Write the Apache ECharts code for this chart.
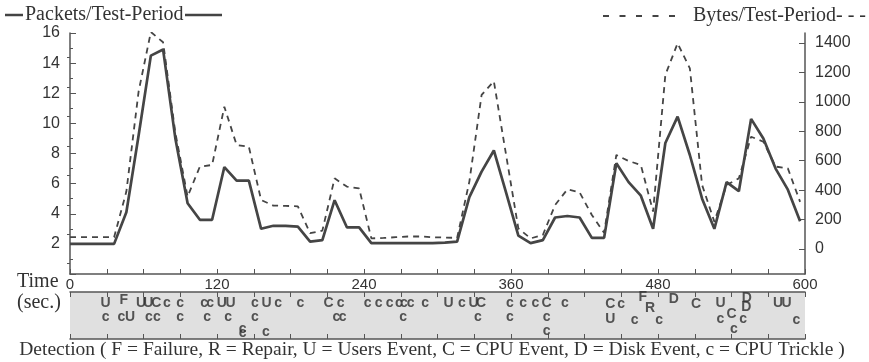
<!DOCTYPE html>
<html><head><meta charset="utf-8">
<script src="https://cdn.jsdelivr.net/npm/echarts@6/dist/echarts.min.js"></script>
<style>html,body{margin:0;padding:0;background:#fff}#c{width:869px;height:362px}</style>
</head><body><div id="c"></div>
<script>
// Sample times (sec.)
const times = [0,6,16,26,36,46,56,66,76,86,96,106,116,126,136,146,156,166,176,186,196,206,216,226,236,246,256,266,276,286,296,306,316,326,336,346,356,366,376,386,396,406,416,426,436,446,456,466,476,486,496,506,516,526,536,546,556,566,576,586,596];
// Packets per test period (left axis)
const packets = [2.0,2.0,2.0,2.0,2.0,4.1,9.2,14.5,14.9,9.0,4.7,3.6,3.6,7.1,6.2,6.2,3.0,3.2,3.2,3.15,2.15,2.25,4.9,3.1,3.1,2.05,2.05,2.05,2.05,2.05,2.05,2.08,2.15,5.1,6.8,8.2,5.4,2.55,2.05,2.25,3.75,3.85,3.75,2.4,2.4,7.35,6.1,5.2,3.0,8.7,10.45,7.9,5.0,3.0,6.1,5.5,10.3,9.0,7.0,5.6,3.5];
// Bytes per test period (right axis)
const bytes = [80,80,80,80,80,390,1070,1475,1405,790,356,560,571,967,707,695,333,295,293,290,107,125,480,424,412,72,75,80,85,85,80,78,75,458,1047,1140,639,140,72,95,299,405,385,231,110,639,598,571,254,1183,1398,1228,435,186,435,480,763,729,560,548,320];
// Detection events: time, stacking level, letter
const detTimes  = [29,29,44,42,49,58,64,70.5,79,64.5,71,90,90,109.5,114.5,112,124,131,129,141,141,151,151,160,160.5,170,188,211,221,217.5,222.5,243,252,261,268.5,272.5,278,272,290,309,320,329.5,335.5,333,359,359,370,380,389,389,389,404,441,450,441,461,467.5,473.5,481,493,511,531,531,540,549.5,542,552.5,552,578,585,593];
const detLevels = [1,2,0.78,2,2,1,1,1,1,2,2,1,2,1,1,2,1,1,2,2.85,3.1,1,2,3.05,1,1,1,1,1,2,2,1,1,1,1,1,1,2,1,1,1,1,1,2,1,2,1,1,1,2,3,1,1.05,1.05,2.1,2.2,0.6,1.35,2.2,0.7,1.1,1.0,2.1,1.75,2.1,2.85,0.65,1.25,1.0,1.0,2.2];
const detLetters = ['U','c','F','c','U','U','U','C','c','c','c','c','c','c','c','c','U','U','c','c','c','c','c','c','U','c','c','C','c','c','c','c','c','c','c','c','c','c','c','U','c','U','C','c','c','c','c','c','C','c','c','c','C','c','U','c','F','R','c','D','C','U','c','C','c','c','D','D','U','U','c'];
// Tick labels
const timeLabels = [0,120,240,360,480,600];
const bytesTicks = [0,200,400,600,800,1000,1200,1400];
const bytesMinorTicks = [-100,100,300,500,700,900,1100,1300];

const packetData = times.map((t,i)=>[t,packets[i]]);
const bytesData = times.map((t,i)=>[t,bytes[i]]);
const detData = detTimes.map((t,i)=>[t,detLevels[i],detLetters[i]]);

const AX = '#555', TXT = '#333', LINE = '#454545';
const SANS = '"Liberation Sans", Arial, sans-serif';
const SERIF = '"Liberation Serif", "Times New Roman", serif';

const chart = echarts.init(document.getElementById('c'), null, {renderer:'canvas'});
chart.setOption({
  animation:false,
  backgroundColor:'#fff',
  grid:[
    {left:70,right:64,top:33,bottom:88},
    {left:70,right:64,top:292,bottom:23,show:true,backgroundColor:'#e0e0e0',borderWidth:0}
  ],
  xAxis:[
    {gridIndex:0,type:'value',min:0,max:600,interval:30,position:'bottom',
     axisLine:{onZero:false,lineStyle:{color:AX,width:1.5}},
     axisTick:{inside:true,length:5,lineStyle:{color:AX}},
     splitLine:{show:false},
     axisLabel:{color:TXT,fontSize:15,fontFamily:SANS,margin:3,
       formatter:v=>timeLabels.includes(v)?String(v):''}},
    {gridIndex:1,type:'value',min:0,max:600,interval:30,position:'top',
     axisLine:{onZero:false,lineStyle:{color:AX,width:1.5}},
     axisTick:{inside:true,length:5,lineStyle:{color:AX}},
     splitLine:{show:false},axisLabel:{show:false}},
    {gridIndex:1,type:'value',min:-9,max:591,interval:30,position:'bottom',
     axisLine:{onZero:false,lineStyle:{color:AX,width:1.5}},
     axisTick:{inside:true,length:5,lineStyle:{color:AX}},
     splitLine:{show:false},axisLabel:{show:false}}
  ],
  yAxis:[
    {gridIndex:0,type:'value',min:0,max:16,interval:2,position:'left',
     axisLine:{show:true,onZero:false,lineStyle:{color:AX,width:1.5}},
     axisTick:{show:true,inside:true,length:6,lineStyle:{color:AX}},
     minorTick:{show:true,splitNumber:2,length:3,lineStyle:{color:AX}},
     splitLine:{show:false},minorSplitLine:{show:false},
     axisLabel:{color:TXT,fontSize:16,fontFamily:SANS,margin:10,formatter:v=>v===0?'':String(v)}},
    {gridIndex:0,type:'value',min:-170,max:1468,position:'right',
     axisLine:{show:true,onZero:false,lineStyle:{color:AX,width:1.5}},
     axisTick:{show:true,inside:true,length:6,customValues:bytesTicks,lineStyle:{color:AX}},
     splitLine:{show:false},
     axisLabel:{color:TXT,fontSize:16,fontFamily:SANS,margin:10,customValues:bytesTicks,formatter:v=>String(v)}},
    {gridIndex:0,type:'value',min:-170,max:1468,position:'right',
     axisLine:{show:false},
     axisTick:{show:true,inside:true,length:3,customValues:bytesMinorTicks,lineStyle:{color:AX}},
     splitLine:{show:false},axisLabel:{show:false}},
    {gridIndex:1,type:'value',min:0.2,max:3.55,inverse:true,show:false}
  ],
  series:[
    {type:'line',name:'Packets/Test-Period',xAxisIndex:0,yAxisIndex:0,data:packetData,
     symbol:'none',lineStyle:{color:LINE,width:2.7},z:3},
    {type:'line',name:'Bytes/Test-Period',xAxisIndex:0,yAxisIndex:1,data:bytesData,
     symbol:'none',lineStyle:{color:LINE,width:1.8,type:[6,5]},z:2},
    {type:'scatter',xAxisIndex:1,yAxisIndex:3,data:detData,symbolSize:0,clip:false,
     label:{show:true,position:'inside',formatter:p=>p.data[2],
       fontFamily:SANS,fontWeight:'bold',fontSize:14,color:'#2e2e2e'}}
  ],
  graphic:[
    {type:'line',shape:{x1:5,y1:15,x2:23,y2:15},style:{stroke:'#444',lineWidth:2.5}},
    {type:'text',x:25,y:15,style:{text:'Packets/Test-Period',font:'20px '+SERIF,fill:TXT,align:'left',verticalAlign:'middle'}},
    {type:'line',shape:{x1:185,y1:15,x2:222,y2:15},style:{stroke:'#444',lineWidth:2.5}},
    {type:'line',shape:{x1:603,y1:16,x2:684,y2:16},style:{stroke:'#444',lineWidth:1.8,lineDash:[6,10.5]}},
    {type:'text',x:866,y:16,style:{text:'Bytes/Test-Period- - -',font:'20px '+SERIF,fill:TXT,align:'right',verticalAlign:'middle'}},
    {type:'text',x:17,y:282,style:{text:'Time',font:'20px '+SERIF,fill:TXT,align:'left',verticalAlign:'middle'}},
    {type:'text',x:17,y:303,style:{text:'(sec.)',font:'20px '+SERIF,fill:TXT,align:'left',verticalAlign:'middle'}},
    {type:'text',x:432,y:350,style:{text:'Detection ( F = Failure, R = Repair, U = Users Event, C = CPU Event, D = Disk Event, c = CPU Trickle )',font:'19.5px '+SERIF,fill:TXT,align:'center',verticalAlign:'middle'}}
  ]
});
</script></body></html>
